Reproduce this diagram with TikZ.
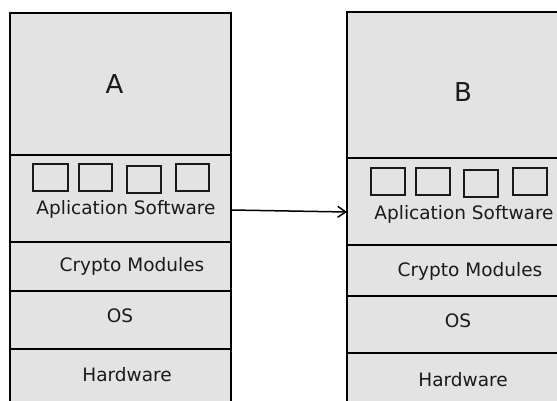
\documentclass[tikz,border=0pt]{standalone}
\usepackage{fontspec}
\setmainfont{DejaVu Sans}
\usetikzlibrary{arrows.meta}
\definecolor{boxgray}{HTML}{E3E3E3}
\definecolor{ink}{HTML}{1A1A1A}
\tikzset{
  layer/.style={draw=black, fill=boxgray, line width=1.5pt, inner sep=0pt,
                outer sep=0pt, anchor=north west},
  slot/.style={draw=ink, fill=boxgray, line width=1.5pt, inner sep=0pt,
               outer sep=0pt, anchor=north west, minimum height=27pt},
  lbl/.style={anchor=base, inner sep=0pt, text=ink, font=\fontsize{18.5}{18.5}\selectfont},
  title/.style={anchor=center, inner sep=0pt, text=ink, font=\fontsize{26}{26}\selectfont},
  flow/.style={line width=1.5pt, -{Straight Barb[length=8pt,width=11pt,line width=1.5pt]}}
}
\begin{document}
\begin{tikzpicture}[x=1pt,y=-1pt]
  \useasboundingbox (0,0) rectangle (557,401);
  \fill[white] (0,0) rectangle (557,401);
  \clip (0,0) rectangle (557,401);

  % left stack
  \node[layer, minimum width=221pt, minimum height=142pt] (aTop) at (10,13) {};
  \node[layer, minimum width=221pt, minimum height=87pt]  (aApp) at (10,155) {};
  \node[layer, minimum width=221pt, minimum height=49pt]  (aCry) at (10,242) {};
  \node[layer, minimum width=221pt, minimum height=58pt]  (aOS)  at (10,291) {};
  \node[layer, minimum width=221pt, minimum height=70pt]  (aHW)  at (10,349) {};

  % right stack
  \node[layer, minimum width=228pt, minimum height=146pt] (bTop) at (347,12) {};
  \node[layer, minimum width=228pt, minimum height=87pt]  (bApp) at (347,158) {};
  \node[layer, minimum width=228pt, minimum height=51pt]  (bCry) at (347,245) {};
  \node[layer, minimum width=228pt, minimum height=57pt]  (bOS)  at (347,296) {};
  \node[layer, minimum width=228pt, minimum height=70pt]  (bHW)  at (347,353) {};

  % application slots
  \node[slot, minimum width=35pt] (a1) at (33,164) {};
  \node[slot, minimum width=33pt] (a2) at (79,164) {};
  \node[slot, minimum width=34pt] (a3) at (127,166) {};
  \node[slot, minimum width=33pt] (a4) at (176,164) {};
  \node[slot, minimum width=34pt] (b1) at (371,168) {};
  \node[slot, minimum width=34pt] (b2) at (416,168) {};
  \node[slot, minimum width=34pt] (b3) at (464,170) {};
  \node[slot, minimum width=34pt] (b4) at (513,168) {};

  % labels
  \node[title] (aTitle) at (114.5,84) {A};
  \node[title] (bTitle) at (463,92) {B};
  \node[lbl] (aAppT) at (126,214) {Aplication Software};
  \node[lbl] (bAppT) at (464,219) {Aplication Software};
  \node[lbl] (aCryT) at (132,271) {Crypto Modules};
  \node[lbl] (bCryT) at (470,276) {Crypto Modules};
  \node[lbl] (aOST)  at (120,322) {OS};
  \node[lbl] (bOST)  at (458,327) {OS};
  \node[lbl] (aHWT)  at (127,381) {Hardware};
  \node[lbl] (bHWT)  at (463,386) {Hardware};

  % deployment arrow
  \draw[flow] (aApp.east |- 0,210) -- (bApp.west |- 0,212);
\end{tikzpicture}
\end{document}
